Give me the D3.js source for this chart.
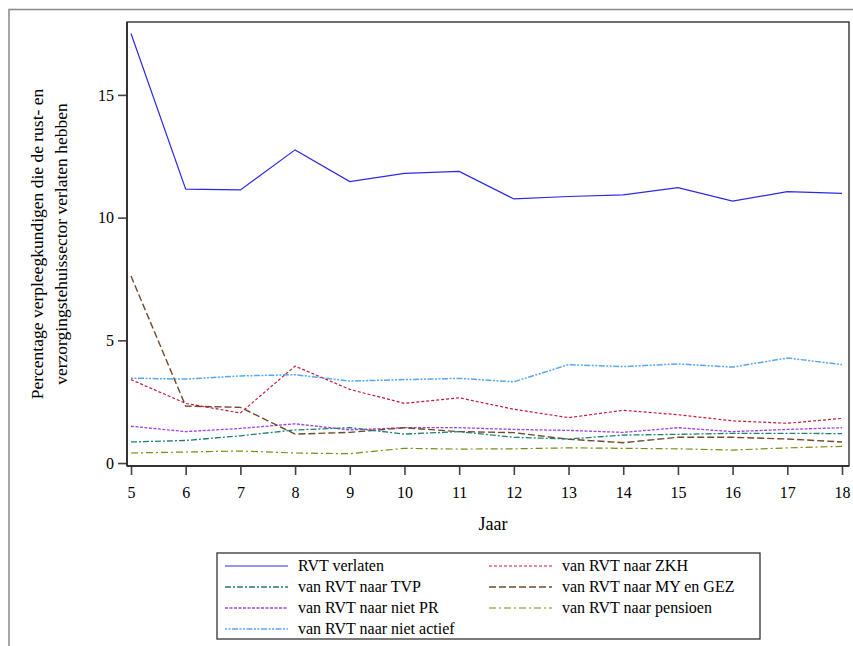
<!DOCTYPE html>
<html>
<head>
<meta charset="utf-8">
<script src="https://cdn.jsdelivr.net/npm/d3@7"></script>
</head>
<body style="margin:0">
<svg id="svg" width="853" height="646"></svg>
<script>
const years = [5, 6, 7, 8, 9, 10, 11, 12, 13, 14, 15, 16, 17, 18];
const yTicks = [0, 5, 10, 15];

const rvtVerlaten = [17.5, 11.16, 11.13, 12.76, 11.47, 11.8, 11.88, 10.76, 10.86, 10.93, 11.22, 10.67, 11.06, 10.99];
const naarZKH = [3.4, 2.43, 2.04, 3.95, 3.0, 2.43, 2.66, 2.19, 1.85, 2.15, 1.97, 1.72, 1.62, 1.82];
const naarTVP = [0.86, 0.92, 1.11, 1.35, 1.44, 1.18, 1.28, 1.05, 0.98, 1.14, 1.17, 1.21, 1.21, 1.2];
const naarMYGEZ = [7.62, 2.32, 2.27, 1.18, 1.25, 1.44, 1.28, 1.24, 0.97, 0.83, 1.05, 1.05, 0.98, 0.86];
const naarNietPR = [1.5, 1.28, 1.41, 1.6, 1.35, 1.44, 1.44, 1.37, 1.33, 1.25, 1.44, 1.28, 1.37, 1.44];
const naarPensioen = [0.41, 0.45, 0.49, 0.41, 0.38, 0.6, 0.57, 0.58, 0.62, 0.6, 0.58, 0.53, 0.62, 0.68];
const naarNietActief = [3.46, 3.42, 3.55, 3.6, 3.34, 3.4, 3.45, 3.31, 4.01, 3.93, 4.04, 3.91, 4.28, 4.01];

const series = [
    {name: "RVT verlaten", values: rvtVerlaten, color: "#2a2ae6", dash: null, width: 1.2},
    {name: "van RVT naar ZKH", values: naarZKH, color: "#c41a3c", dash: "3,2", width: 1.2},
    {name: "van RVT naar TVP", values: naarTVP, color: "#1f7f74", dash: "6,2,2,2", width: 1.3},
    {name: "van RVT naar MY en GEZ", values: naarMYGEZ, color: "#6e4b2a", dash: "7,3", width: 1.4},
    {name: "van RVT naar niet PR", values: naarNietPR, color: "#a040e6", dash: "3,1.5", width: 1.3},
    {name: "van RVT naar pensioen", values: naarPensioen, color: "#7b8c12", dash: "7,3,2,3", width: 1.2},
    {name: "van RVT naar niet actief", values: naarNietActief, color: "#58a8f0", dash: "2,1.5,2,1.5,6,1.5", width: 1.5}
];

const FONT = "Liberation Serif";

const svg = d3.select("#svg");

// outer border
svg.append("rect")
    .attr("x", 9).attr("y", 9.5)
    .attr("width", 860).attr("height", 660)
    .attr("fill", "none")
    .attr("stroke", "#888")
    .attr("stroke-width", 1.5);

const x = d3.scaleLinear([5, 18], [131, 842]);
const y = d3.scaleLinear([-0.12, 17.97], [466, 22]);

const frameLeft = 127, frameRight = 849, frameTop = 22, frameBottom = 466;

// plot frame
svg.append("rect")
    .attr("x", frameLeft).attr("y", frameTop)
    .attr("width", frameRight - frameLeft).attr("height", frameBottom - frameTop)
    .attr("fill", "none")
    .attr("stroke", "#222")
    .attr("stroke-width", 1.3);

// axes
const yAxis = svg.append("g")
    .attr("transform", `translate(${frameLeft},0)`)
    .call(d3.axisLeft(y).tickValues(yTicks).tickSize(9).tickPadding(4).tickFormat(d3.format("d")));

const xAxis = svg.append("g")
    .attr("transform", `translate(0,${frameBottom})`)
    .call(d3.axisBottom(x).tickValues(years).tickSize(9).tickPadding(12).tickFormat(d3.format("d")));

[yAxis, xAxis].forEach(ax => {
    ax.select(".domain").remove();
    ax.selectAll(".tick line").attr("stroke", "#444").attr("stroke-width", 1.6);
    ax.selectAll(".tick text")
        .attr("font-family", FONT)
        .attr("font-size", 16)
        .attr("fill", "#000");
});

// heavier left and bottom axis lines
svg.append("line")
    .attr("x1", frameLeft).attr("x2", frameLeft)
    .attr("y1", frameTop).attr("y2", frameBottom)
    .attr("stroke", "#333").attr("stroke-width", 2);
svg.append("line")
    .attr("x1", frameLeft).attr("x2", frameRight)
    .attr("y1", frameBottom).attr("y2", frameBottom)
    .attr("stroke", "#333").attr("stroke-width", 2);

// lines
const line = d3.line()
    .x((d, i) => x(years[i]))
    .y(d => y(d));

svg.append("g")
    .selectAll("path")
    .data(series.slice().reverse())
    .join("path")
    .attr("d", d => line(d.values))
    .attr("fill", "none")
    .attr("stroke", d => d.color)
    .attr("stroke-width", d => d.width)
    .attr("stroke-dasharray", d => d.dash);

// axis titles
svg.append("text")
    .attr("x", 493).attr("y", 530)
    .attr("text-anchor", "middle")
    .attr("font-family", FONT)
    .attr("font-size", 18)
    .text("Jaar");

const yTitle = svg.append("text")
    .attr("transform", "translate(43,244) rotate(-90)")
    .attr("text-anchor", "middle")
    .attr("font-family", FONT)
    .attr("font-size", 17.5);
yTitle.append("tspan").attr("x", 0).attr("dy", 0).text("Percentage verpleegkundigen die de rust- en");
yTitle.append("tspan").attr("x", 0).attr("dy", 24).text("verzorgingstehuissector verlaten hebben");

// legend
const legend = svg.append("g");
legend.append("rect")
    .attr("x", 217).attr("y", 553)
    .attr("width", 543).attr("height", 86)
    .attr("fill", "#fff")
    .attr("stroke", "#333")
    .attr("stroke-width", 1.3);

const legendItems = legend.selectAll("g.item")
    .data(series)
    .join("g")
    .attr("class", "item")
    .attr("transform", (d, i) => `translate(${i % 2 === 0 ? 225 : 489},${566 + Math.floor(i / 2) * 21})`);

legendItems.append("line")
    .attr("x1", 0).attr("x2", 63)
    .attr("y1", 0).attr("y2", 0)
    .attr("stroke", d => d.color)
    .attr("stroke-width", d => d.width)
    .attr("stroke-dasharray", d => d.dash);

legendItems.append("text")
    .attr("x", 73)
    .attr("y", 5)
    .attr("font-family", FONT)
    .attr("font-size", 16)
    .text(d => d.name);
</script>
</body>
</html>
